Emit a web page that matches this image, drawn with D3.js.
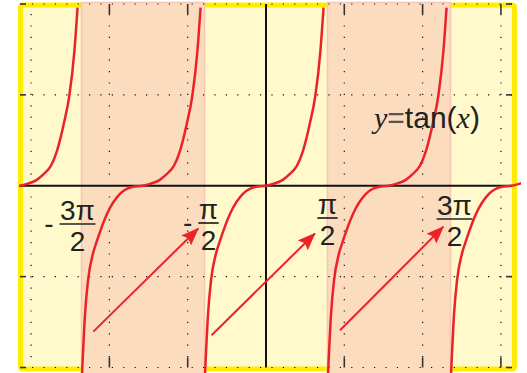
<!DOCTYPE html>
<html>
<head>
<meta charset="utf-8">
<script src="https://cdn.jsdelivr.net/npm/d3@7"></script>
<style>
  body { margin: 0; background: #fff; }
  svg { display: block; }
</style>
</head>
<body>
<div id="chart"></div>
<script>
const PI = Math.PI;

// centres of the tan branches drawn (radians)
const branchCenters = [-2 * PI, -PI, 0, PI, 2 * PI];

// one branch: offset from centre (rad), y value
const branchDx = [-1.56, -1.48, -1.405, -1.28, -1.175, -0.92, -0.59, -0.255, 0,
    0.18, 0.43, 0.61, 0.79, 0.945, 1.12, 1.26, 1.39, 1.47];
const branchY = [-4.2, -2.82, -2.09, -1.5, -1.21, -0.62, -0.18, -0.02, 0,
    0.04, 0.13, 0.26, 0.44, 0.77, 1.37, 1.98, 2.97, 3.92];

// shaded intervals (rad)
const bandStart = [-3 * PI / 2, PI / 2];
const bandEnd = [-PI / 2, 3 * PI / 2];

// grid and ticks
const gridX = [-6, -4, -2, 2, 4, 6];
const gridY = [-4, -2, 2, 4];
const tickX = [-4, -2, 2, 4, 6];
const tickY = [-4, -2, 2, 4];

// axis labels at the asymptotes
const labelValue = [-3 * PI / 2, -PI / 2, PI / 2, 3 * PI / 2];
const labelSign = ["-", "-", "", ""];
const labelNum = ["3\u03c0", "\u03c0", "\u03c0", "3\u03c0"];
const labelDen = ["2", "2", "2", "2"];

// arrows pointing at the labels
const arrowFrom = [[-4.41, -3.21], [-1.39, -3.29], [1.89, -3.18]];
const arrowTo = [[-1.73, -0.94], [1.25, -1.05], [4.53, -0.90]];

const W = 527, H = 373;
const red = "#ec2229";

const x = d3.scaleLinear().domain([-2 * PI, 2 * PI]).range([20, 512]);
const y = d3.scaleLinear().domain([-4, 4]).range([367.5, 4]);

const svg = d3.select("#chart").append("svg")
    .attr("width", W)
    .attr("height", H);

const defs = svg.append("defs");
defs.append("clipPath").attr("id", "clip")
    .append("rect")
    .attr("x", 19).attr("y", 0)
    .attr("width", 502).attr("height", H);

defs.append("marker")
    .attr("id", "head")
    .attr("markerUnits", "userSpaceOnUse")
    .attr("viewBox", "0 0 18 14")
    .attr("refX", 17).attr("refY", 7)
    .attr("markerWidth", 18).attr("markerHeight", 14)
    .attr("orient", "auto")
    .append("path")
    .attr("d", "M0,0 L18,7 L0,14 L3,7 Z")
    .attr("fill", red);

// frame
svg.append("rect")
    .attr("x", 20.5).attr("y", 5)
    .attr("width", 494).attr("height", 364)
    .attr("rx", 2)
    .attr("fill", "#fff9cc")
    .attr("stroke", "#ffec00")
    .attr("stroke-width", 5);

// shaded bands
svg.append("g").selectAll("rect")
    .data(bandStart)
    .join("rect")
    .attr("x", d => x(d))
    .attr("y", 2.5)
    .attr("width", (d, i) => x(bandEnd[i]) - x(d))
    .attr("height", H)
    .attr("fill", "#fcdcbf")
    .attr("stroke", "#f8c4b4")
    .attr("stroke-width", 1.5);

// dotted grid
const grid = svg.append("g")
    .attr("stroke", "#111")
    .attr("stroke-width", 1.2)
    .attr("stroke-dasharray", "1.2,10.2");

grid.selectAll(".gx")
    .data(gridX)
    .join("line")
    .attr("class", "gx")
    .attr("x1", d => x(d)).attr("x2", d => x(d))
    .attr("y1", y(4) + 10).attr("y2", y(-4));

grid.selectAll(".gy")
    .data(gridY)
    .join("line")
    .attr("class", "gy")
    .attr("x1", x(-2 * PI) + 12).attr("x2", x(2 * PI))
    .attr("y1", d => y(d)).attr("y2", d => y(d));

// ticks
const ticks = svg.append("g").attr("stroke", "#333").attr("stroke-width", 1.6);
tickX.forEach(v => {
    ticks.append("line").attr("x1", x(v)).attr("x2", x(v)).attr("y1", y(4)).attr("y2", y(4) + 10);
    ticks.append("line").attr("x1", x(v)).attr("x2", x(v)).attr("y1", y(-4)).attr("y2", y(-4) - 10);
});
tickY.forEach(v => {
    ticks.append("line").attr("x1", x(-2 * PI)).attr("x2", x(-2 * PI) + 6).attr("y1", y(v)).attr("y2", y(v));
    ticks.append("line").attr("x1", x(2 * PI)).attr("x2", x(2 * PI) - 6).attr("y1", y(v)).attr("y2", y(v));
});

// axes
svg.append("line")
    .attr("x1", x(-2 * PI)).attr("x2", x(2 * PI))
    .attr("y1", y(0)).attr("y2", y(0))
    .attr("stroke", "#111").attr("stroke-width", 2);
svg.append("line")
    .attr("x1", x(0)).attr("x2", x(0))
    .attr("y1", y(4)).attr("y2", y(-4))
    .attr("stroke", "#111").attr("stroke-width", 2);

// tan branches
const line = d3.line()
    .x(d => x(d[0]))
    .y(d => y(d[1]))
    .curve(d3.curveMonotoneX);

svg.append("g")
    .attr("clip-path", "url(#clip)")
    .selectAll("path")
    .data(branchCenters)
    .join("path")
    .attr("d", c => line(branchDx.map((dx, i) => [c + dx, branchY[i]])))
    .attr("fill", "none")
    .attr("stroke", red)
    .attr("stroke-width", 2.5);

// arrows
svg.append("g").selectAll("line")
    .data(arrowFrom)
    .join("line")
    .attr("x1", d => x(d[0])).attr("y1", d => y(d[1]))
    .attr("x2", (d, i) => x(arrowTo[i][0])).attr("y2", (d, i) => y(arrowTo[i][1]))
    .attr("stroke", red)
    .attr("stroke-width", 2)
    .attr("marker-end", "url(#head)");

// fraction labels
const labelDx = [-4, 4, 0, 4];
const labelBarY = [224, 223, 218, 219];
const fs = 28;
const labels = svg.append("g")
    .attr("font-family", "'Liberation Sans', Arial, sans-serif")
    .attr("font-size", fs)
    .attr("fill", "#222");

labelValue.forEach((v, i) => {
    const cx = x(v) + labelDx[i];
    const by = labelBarY[i];
    const num = labels.append("text")
        .attr("x", cx).attr("y", by - 4.5)
        .attr("text-anchor", "middle")
        .text(labelNum[i]);
    const w = num.node().getComputedTextLength() + 1;
    labels.append("line")
        .attr("x1", cx - w / 2).attr("x2", cx + w / 2)
        .attr("y1", by).attr("y2", by)
        .attr("stroke", "#222").attr("stroke-width", 1.7);
    labels.append("text")
        .attr("x", cx).attr("y", by + 27)
        .attr("text-anchor", "middle")
        .text(labelDen[i]);
    if (labelSign[i]) {
        labels.append("text")
            .attr("x", cx - w / 2 - 6).attr("y", by + 8.5)
            .attr("text-anchor", "end")
            .text(labelSign[i]);
    }
});

// function name
const fn = svg.append("text")
    .attr("x", 374).attr("y", 128)
    .attr("font-family", "'Liberation Sans', Arial, sans-serif")
    .attr("font-size", 30)
    .attr("fill", "#222");
fn.append("tspan").attr("font-family", "'Liberation Serif', 'Times New Roman', serif").attr("font-style", "italic").text("y");
fn.append("tspan").attr("fill", "#555").text("=");
fn.append("tspan").text("tan(");
fn.append("tspan").attr("font-family", "'Liberation Serif', 'Times New Roman', serif").attr("font-style", "italic").text("x");
fn.append("tspan").text(")");
</script>
</body>
</html>
